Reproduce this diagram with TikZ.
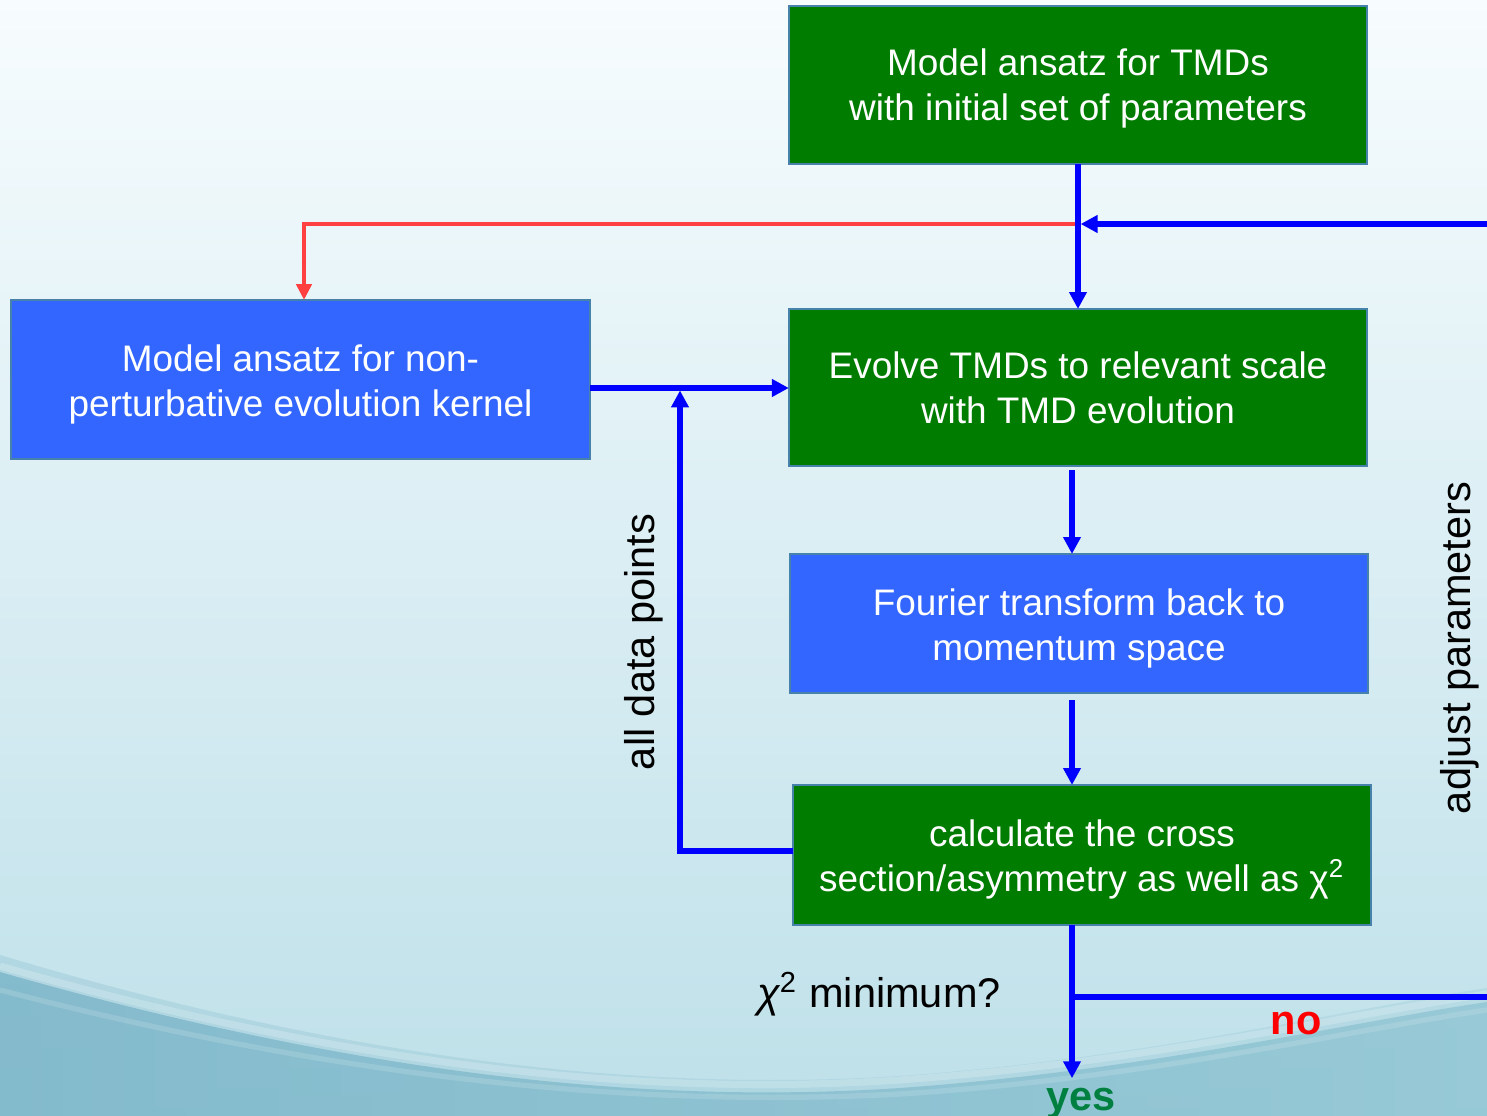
\documentclass[tikz,border=0pt]{standalone}
\usepackage{fontspec}
\setmainfont{Liberation Sans}
\usetikzlibrary{arrows.meta}

\definecolor{boxgreen}{RGB}{0,125,0}
\definecolor{boxblue}{RGB}{51,102,255}
\definecolor{boxedge}{RGB}{70,130,170}
\definecolor{flowblue}{RGB}{0,0,255}
\definecolor{flowred}{RGB}{255,64,64}
\definecolor{yesgreen}{RGB}{0,128,64}
\definecolor{nored}{RGB}{255,0,0}
\definecolor{bgtop}{RGB}{247,252,254}
\definecolor{bgmid}{RGB}{236,246,249}
\definecolor{bgbot}{RGB}{190,224,233}
\definecolor{waveleft}{RGB}{118,178,198}
\definecolor{waveright}{RGB}{142,196,210}

\tikzset{
  flowbox/.style={draw=boxedge, line width=0.7pt, inner sep=0pt, outer sep=0pt},
  greenbox/.style={flowbox, fill=boxgreen},
  bluebox/.style={flowbox, fill=boxblue},
  boxtext/.style={text=white, align=center, inner sep=0pt,
    font=\fontsize{10.5}{12.8}\selectfont},
  bluearrow/.style={draw=flowblue, line width=1.45pt,
    -{Triangle[length=4.8pt,width=4.8pt]}},
  blueline/.style={draw=flowblue, line width=1.45pt},
  redarrow/.style={draw=flowred, line width=1.2pt,
    -{Triangle[length=4.5pt,width=4.3pt]}},
  sidelabel/.style={font=\fontsize{11.8}{14}\selectfont, inner sep=0pt},
}

\begin{document}
\begin{tikzpicture}[x=0.01cm, y=-0.01cm]
  % page background with its bottom swoosh
  \useasboundingbox (0,0) rectangle (1487,1116);
  \shade[top color=bgtop, middle color=bgmid, bottom color=bgbot]
    (0,0) rectangle (1487,1116);
  % soft upper edge of the swoosh
  \shade[left color=waveleft, right color=waveright, opacity=0.25]
    (0,955) .. controls (300,1045) and (600,1095) .. (900,1076)
    .. controls (1150,1058) and (1350,1008) .. (1487,988)
    -- (1487,1116) -- (0,1116) -- cycle;
  \shade[left color=waveleft, right color=waveright, opacity=0.75]
    (0,972) .. controls (300,1058) and (600,1108) .. (900,1088)
    .. controls (1150,1070) and (1350,1022) .. (1487,1002)
    -- (1487,1116) -- (0,1116) -- cycle;
  \draw[white, opacity=0.2, line width=2pt]
    (0,966) .. controls (300,1052) and (600,1100) .. (900,1080)
    .. controls (1150,1062) and (1350,1014) .. (1487,994);
  \draw[white, opacity=0.14, line width=1.5pt]
    (0,990) .. controls (300,1068) and (600,1110) .. (900,1094)
    .. controls (1150,1078) and (1350,1030) .. (1487,1010);

  % process boxes
  \node[greenbox, minimum width=5.78cm, minimum height=1.58cm,
    label={[boxtext, yshift=-0.035cm]center:{Model ansatz for TMDs\\with initial set of parameters}}]
    (b1) at (1078,85) {};
  \node[bluebox, minimum width=5.79cm, minimum height=1.59cm,
    label={[boxtext, yshift=-0.045cm]center:{Model ansatz for non-\\perturbative evolution kernel}}]
    (b2) at (300.5,379.5) {};
  \node[greenbox, minimum width=5.78cm, minimum height=1.57cm,
    label={[boxtext, yshift=-0.005cm]center:{Evolve TMDs to relevant scale\\with TMD evolution}}]
    (b3) at (1078,387.5) {};
  \node[bluebox, minimum width=5.78cm, minimum height=1.39cm,
    label={[boxtext, yshift=-0.05cm]center:{Fourier transform back to\\momentum space}}]
    (b4) at (1079,623.5) {};
  \node[greenbox, minimum width=5.78cm, minimum height=1.40cm,
    label={[boxtext, yshift=-0.045cm]center:{calculate the cross\\section/asymmetry as well as χ\textsuperscript{2}}}]
    (b5) at (1082,855) {};

  % labels
  \node[sidelabel, rotate=90] (alldata) at (644,642) {all data points};
  \node[sidelabel, rotate=90] (adjust) at (1460,648) {adjust parameters};
  \node[sidelabel] (chimin) at (879,994) {{\itshape χ}\textsuperscript{2} minimum?};
  \node[sidelabel, font=\bfseries\fontsize{11.8}{14}\selectfont, text=nored] (no) at (1296,1024) {no};
  \node[sidelabel, font=\bfseries\fontsize{11.8}{14}\selectfont, text=yesgreen, anchor=north] (yes) at (1081,1087) {yes};

  % junction points
  \coordinate (split) at (1078,224);
  \coordinate (adjin) at (1487,224);
  \coordinate (join) at (680,388);
  \coordinate (fork) at (1072,997);
  \coordinate (adjout) at (1487,997);

  % connectors
  \draw[redarrow] (split) -| ([xshift=0.035cm]b2.north);
  \draw[bluearrow] (b1.south) -- (b3.north);
  \draw[bluearrow, shorten >=0.75pt] (adjin) -- (split);
  \draw[bluearrow] (b2.east |- join) -- (b3.west |- join);
  \draw[bluearrow, shorten >=0.7pt] (b5.west |- 0,851) -| (join);
  \draw[bluearrow] ([yshift=-0.04cm]b3.south -| 1072,0) -- (b4.north -| 1072,0);
  \draw[bluearrow] ([yshift=-0.07cm]b4.south -| 1072,0) -- (b5.north -| 1072,0);
  \draw[bluearrow, shorten >=2.5pt] (b5.south -| 1072,0) -- (yes.north -| 1072,0);
  \draw[blueline] (fork) -- (adjout);
\end{tikzpicture}
\end{document}
